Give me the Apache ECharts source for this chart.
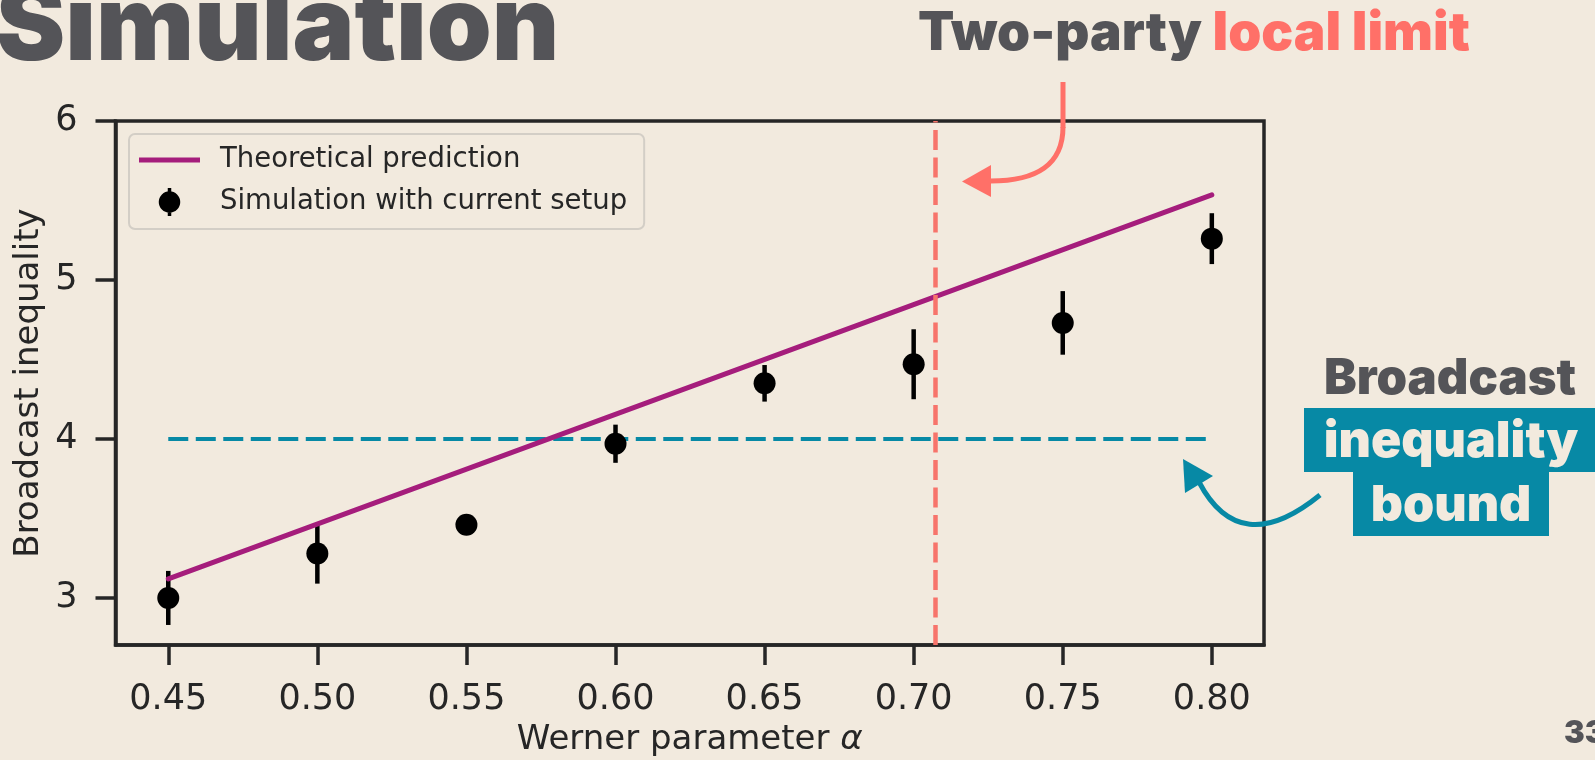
<!DOCTYPE html>
<html>
<head>
<meta charset="utf-8">
<script src="https://cdn.jsdelivr.net/npm/echarts@6/dist/echarts.min.js"></script>
<style>
  html, body { margin: 0; padding: 0; background: #f2eade; }
  #container { width: 1595px; height: 760px; }
</style>
</head>
<body>
<div id="container"></div>
<script>
var dom = document.getElementById("container");
var myChart = echarts.init(dom);

// werner parameter / simulated values / error bars
var alphaValues = [0.45, 0.50, 0.55, 0.60, 0.65, 0.70, 0.75, 0.80];
var simValues = [3.00, 3.28, 3.46, 3.97, 4.35, 4.47, 4.73, 5.26];
var simErrors = [0.17, 0.19, 0.05, 0.12, 0.115, 0.22, 0.20, 0.16];

// theoretical prediction (straight line)
var theoryAlpha = [0.45, 0.80];
var theoryValues = [3.12, 5.535];

// broadcast inequality bound and two-party local limit
var boundAlpha = [0.45, 0.80];
var boundValue = 4;
var localLimit = 0.7071;

// axis ticks
var xTicks = [0.45, 0.50, 0.55, 0.60, 0.65, 0.70, 0.75, 0.80];
var yTicks = [3, 4, 5, 6];

var axisColor = '#262626';
var bg = '#f2eade';
var darkText = '#545458';
var salmon = '#ff7068';
var teal = '#0789a5';
var purple = '#a51d7c';
var heavy = 'Inter';

var simData = alphaValues.map(function (a, i) { return [a, simValues[i]]; });
var errData = alphaValues.map(function (a, i) { return [a, simValues[i], simErrors[i]]; });
var theoryData = theoryAlpha.map(function (a, i) { return [a, theoryValues[i]]; });
var boundData = boundAlpha.map(function (a) { return [a, boundValue]; });

var option = {
    backgroundColor: bg,
    animation: false,
    grid: {
        left: 115.5,
        right: 331,
        top: 121,
        bottom: 115,
        containLabel: false,
        outerBoundsMode: 'none',
        show: true,
        borderColor: axisColor,
        borderWidth: 3.5
    },
    legend: {
        orient: 'vertical',
        left: 129,
        top: 134,
        padding: [12, 17, 13, 10],
        itemWidth: 61,
        itemHeight: 28,
        itemGap: 14,
        backgroundColor: bg,
        borderColor: '#d3cec6',
        borderWidth: 2,
        borderRadius: 6,
        textStyle: {
            fontFamily: 'DejaVu Sans',
            fontSize: 27.5,
            color: axisColor,
            padding: [0, 0, 0, 15]
        },
        data: [
            {
                name: 'Theoretical prediction',
                icon: 'path://M0,0 L61,0 L61,5 L0,5 Z',
                itemStyle: {color: purple, borderWidth: 0},
                lineStyle: {width: 0}
            },
            {
                name: 'Simulation with current setup',
                icon: 'path://M9,0 L12.5,0 L12.5,28 L9,28 Z M21.5,14 A10.75,10.75 0 1 1 0,14 A10.75,10.75 0 1 1 21.5,14 Z',
                itemStyle: {color: '#000', borderWidth: 0}
            }
        ]
    },
    xAxis: {
        type: 'value',
        min: 0.4323,
        max: 0.8175,
        splitLine: {show: false},
        axisLine: {show: true, onZero: false, lineStyle: {color: axisColor, width: 3.5}},
        axisTick: {show: true, customValues: xTicks, length: 20, lineStyle: {color: axisColor, width: 3.5}},
        axisLabel: {
            customValues: xTicks,
            formatter: function (v) { return v.toFixed(2); },
            margin: 37,
            fontSize: 35,
            fontFamily: 'DejaVu Sans',
            color: axisColor
        },
        name: 'Werner parameter {i|α}',
        nameLocation: 'middle',
        nameGap: 78,
        nameMoveOverlap: false,
        nameTextStyle: {
            fontSize: 34,
            fontFamily: 'DejaVu Sans',
            color: axisColor,
            rich: {i: {fontStyle: 'italic', fontSize: 34, fontFamily: 'DejaVu Sans', color: axisColor}}
        }
    },
    yAxis: {
        type: 'value',
        min: 2.704,
        max: 6,
        splitLine: {show: false},
        axisLine: {show: true, onZero: false, lineStyle: {color: axisColor, width: 3.5}},
        axisTick: {show: true, customValues: yTicks, length: 20, lineStyle: {color: axisColor, width: 3.5}},
        axisLabel: {
            customValues: yTicks,
            formatter: function (v) { return String(v); },
            margin: 38,
            fontSize: 35,
            fontFamily: 'DejaVu Sans',
            color: axisColor
        },
        name: 'Broadcast inequality',
        nameLocation: 'middle',
        nameGap: 69,
        nameMoveOverlap: false,
        nameTextStyle: {fontSize: 34, fontFamily: 'DejaVu Sans', color: axisColor}
    },
    series: [
        {
            name: 'bound',
            type: 'line',
            data: boundData,
            symbol: 'none',
            z: 1,
            lineStyle: {color: teal, width: 4, type: [20, 7.5]}
        },
        {
            name: 'Simulation with current setup',
            type: 'custom',
            data: errData,
            z: 2,
            itemStyle: {color: '#000'},
            renderItem: function (params, api) {
                var x = api.value(0), y = api.value(1), e = api.value(2);
                var p1 = api.coord([x, y + e]);
                var p2 = api.coord([x, y - e]);
                return {
                    type: 'line',
                    shape: {x1: p1[0], y1: p1[1], x2: p2[0], y2: p2[1]},
                    style: {stroke: '#000', lineWidth: 4.5}
                };
            }
        },
        {
            name: 'Simulation with current setup',
            type: 'scatter',
            data: simData,
            symbolSize: 22,
            z: 3,
            itemStyle: {color: '#000', opacity: 1}
        },
        {
            name: 'Theoretical prediction',
            type: 'line',
            data: theoryData,
            symbol: 'none',
            z: 4,
            lineStyle: {color: purple, width: 5, cap: 'round'},
            itemStyle: {color: purple}
        },
        {
            name: 'local limit',
            type: 'line',
            data: [],
            z: 5,
            markLine: {
                silent: true,
                symbol: 'none',
                precision: 4,
                label: {show: false},
                lineStyle: {color: '#f7746b', width: 4.5, type: [20, 7.5]},
                data: [{xAxis: localLimit}]
            }
        }
    ],
    graphic: [
        {
            type: 'text',
            style: {x: -4, y: 29, text: 'Simulation', font: '900 104px ' + heavy, fill: darkText, verticalAlign: 'middle'}
        },
        {
            type: 'text',
            style: {
                x: 918, y: 34,
                text: '{a|Two-party }{b|local limit}',
                verticalAlign: 'middle',
                rich: {
                    a: {font: '900 53px ' + heavy, fill: darkText},
                    b: {font: '900 53px ' + heavy, fill: salmon}
                }
            }
        },
        {
            type: 'polyline',
            shape: {points: [[1063, 82], [1063, 128]]},
            style: {stroke: salmon, lineWidth: 5, fill: null}
        },
        {
            type: 'bezierCurve',
            shape: {x1: 1063, y1: 127, cpx1: 1063, cpy1: 182, x2: 988, y2: 181},
            style: {stroke: salmon, lineWidth: 5, fill: null}
        },
        {
            type: 'polygon',
            shape: {points: [[962, 181.5], [991, 165], [991, 197]]},
            style: {fill: salmon}
        },
        {
            type: 'text',
            style: {x: 1450, y: 379, text: 'Broadcast', font: '900 49px ' + heavy, fill: darkText, align: 'center', verticalAlign: 'middle'}
        },
        {
            type: 'rect',
            shape: {x: 1304, y: 408, width: 291, height: 64},
            style: {fill: teal}
        },
        {
            type: 'rect',
            shape: {x: 1353, y: 471, width: 196, height: 65},
            style: {fill: teal}
        },
        {
            type: 'text',
            style: {x: 1451, y: 442, text: 'inequality', font: '900 50px ' + heavy, fill: bg, align: 'center', verticalAlign: 'middle'}
        },
        {
            type: 'text',
            style: {x: 1451, y: 506, text: 'bound', font: '900 50px ' + heavy, fill: bg, align: 'center', verticalAlign: 'middle'}
        },
        {
            type: 'bezierCurve',
            shape: {x1: 1320, y1: 495, cpx1: 1240, cpy1: 560, x2: 1199, y2: 482},
            style: {stroke: teal, lineWidth: 5, fill: null}
        },
        {
            type: 'polygon',
            shape: {points: [[1183, 459], [1185, 493], [1213, 476]]},
            style: {fill: teal}
        },
        {
            type: 'text',
            style: {x: 1564, y: 734, text: '33', font: '900 31px ' + heavy, fill: darkText, verticalAlign: 'middle'}
        }
    ]
};

myChart.setOption(option);
</script>
</body>
</html>
